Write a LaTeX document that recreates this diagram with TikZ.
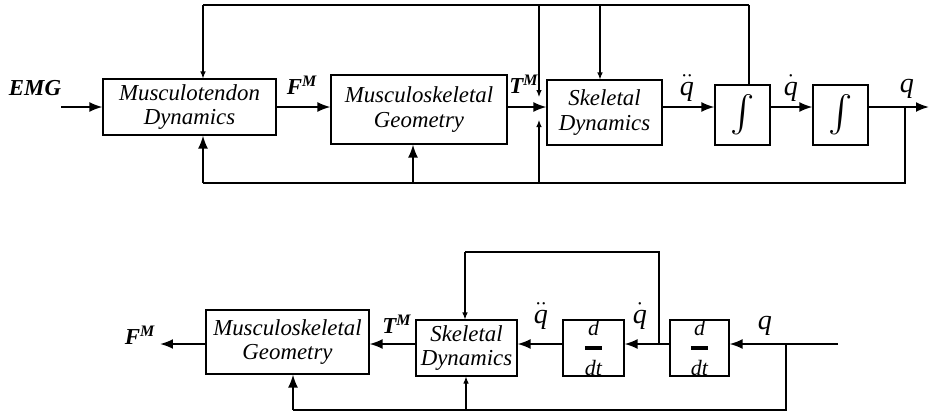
\documentclass[tikz,border=0pt]{standalone}
\usepackage{amsmath}
\usepackage{fontspec}
\setmainfont{Liberation Serif}
\usetikzlibrary{arrows.meta, calc}

\begin{document}
\begin{tikzpicture}[
    x=0.02cm, y=-0.02cm,
    box/.style={rectangle, draw=black, line width=0.6pt, inner sep=0pt, align=center, font=\fontsize{13}{13.7}\selectfont\itshape},
    sig/.style={-{Latex[length=0.26cm, width=0.2cm]}, line width=1.1pt},
    fbline/.style={line width=1.1pt},
    fbthin/.style={line width=0.6pt},
    fbarrow/.style={-{Latex[length=0.14cm, width=0.11cm]}, line width=0.6pt},
    lbl/.style={font=\fontsize{13}{13}\selectfont\bfseries\itshape, inner sep=0pt},
    qlbl/.style={font=\fontsize{16}{16}\selectfont\itshape, inner sep=0pt}
]
    \useasboundingbox (0,0) rectangle (930,414);

    % Symbols
    \def\intsign{{\fontsize{20}{20}\selectfont$\int$}}
    \def\ddtsign{{\fontsize{12.5}{12.5}\selectfont$\genfrac{}{}{2pt}{0}{\textit{d}}{\textit{dt}}$}}

    % Forward dynamics: nodes
    \node[box, minimum width=3.46cm, minimum height=1.12cm] (mtd) at (189.5,107) {Musculotendon\\Dynamics};
    \node[box, minimum width=3.52cm, minimum height=1.38cm] (msg) at (419,109.5) {Musculoskeletal\\Geometry};
    \node[box, minimum width=2.3cm, minimum height=1.3cm] (skd) at (604.5,112.5) {Skeletal\\Dynamics};
    \node[box, minimum width=1.1cm, minimum height=1.2cm] (int1) at (742.5,115) {\intsign};
    \node[box, minimum width=1.1cm, minimum height=1.2cm] (int2) at (840.5,115) {\intsign};

    \coordinate (emg) at (61,107);
    \coordinate (sum) at (539,107);
    \coordinate (qbr) at (905,107);
    \coordinate (qout) at (929,107);

    % Forward path
    \draw[sig] (emg) -- (mtd.west |- emg);
    \draw[sig] (mtd.east |- emg) -- (msg.west |- emg);
    \draw[sig] (msg.east |- emg) -- (skd.west |- emg);
    \draw[sig] (skd.east |- emg) -- (int1.west |- emg);
    \draw[sig] (int1.east |- emg) -- (int2.west |- emg);
    \draw[sig] (int2.east |- emg) -- (qout);

    % Labels
    \node[lbl] (emglbl) at (35,88) {EMG};
    \node[lbl] (fmlbl) at (302,85) {F\textsuperscript{M}};
    \node[lbl] (tmlbl) at (524,84) {T\textsuperscript{M}};
    \node[qlbl] (qddlbl) at (687,88) {$\ddot{\textit{q}}$};
    \node[qlbl] (qdlbl) at (791,88) {$\dot{\textit{q}}$};
    \node[qlbl] (qlbl) at (907,89) {q};

    % Velocity feedback (top)
    \coordinate (topr) at (749,5);
    \coordinate (topl) at (203,5);
    \draw[fbline] ($(int1.north)+(6.5,0)$) -- (topr);
    \draw[fbthin] (topr) -- (topl);
    \draw[fbarrow] (topl) -- (mtd.north -| topl);
    \draw[fbarrow, shorten >=0.2cm] (sum |- topl) -- (sum);
    \draw[fbarrow] (600,5) -- (skd.north -| 600,5);

    % Position feedback (bottom)
    \coordinate (botl) at (203,183);
    \coordinate (botm) at (413,183);
    \draw[fbline] (qbr) -- (qbr |- botl) -- (botl);
    \draw[sig] (botl) -- (mtd.south -| botl);
    \draw[sig] (botm) -- (msg.south -| botm);
    \draw[fbarrow, shorten >=0.26cm] (sum |- botl) -- (sum);

    % Inverse dynamics: nodes
    \node[box, minimum width=3.26cm, minimum height=1.28cm] (msg2) at (287.5,342) {Musculoskeletal\\Geometry};
    \node[box, minimum width=2.02cm, minimum height=1.12cm] (skd2) at (466.5,348) {Skeletal\\Dynamics};
    \node[box, minimum width=1.22cm, minimum height=1.12cm] (dd1) at (593.5,348) {\ddtsign};
    \node[box, minimum width=1.18cm, minimum height=1.12cm] (dd2) at (699.5,348) {\ddtsign};

    \coordinate (qin) at (838,344);
    \coordinate (fmout) at (160,344);
    \coordinate (qbr2) at (786,344);
    \coordinate (qdbr) at (659,344);

    % Backward path
    \draw[sig] (qin) -- (dd2.east |- qin);
    \draw[sig] (dd2.west |- qin) -- (dd1.east |- qin);
    \draw[sig] (dd1.west |- qin) -- (skd2.east |- qin);
    \draw[sig] (skd2.west |- qin) -- (msg2.east |- qin);
    \draw[sig] (msg2.west |- qin) -- (fmout);

    % Labels
    \node[lbl] (fmlbl2) at (140,335) {F\textsuperscript{M}};
    \node[lbl] (tmlbl2) at (397,324) {T\textsuperscript{M}};
    \node[qlbl] (qddlbl2) at (541,316) {$\ddot{\textit{q}}$};
    \node[qlbl] (qdlbl2) at (640,316) {$\dot{\textit{q}}$};
    \node[qlbl] (qlbl2) at (765,326) {q};

    % Velocity loop (top)
    \coordinate (topl2) at (465,252);
    \draw[fbline] (qdbr) -- (qdbr |- topl2) -- (topl2);
    \draw[fbarrow] (topl2) -- (skd2.north -| topl2);

    % Position loop (bottom)
    \coordinate (botl2) at (293,410);
    \coordinate (botm2) at (466,410);
    \draw[fbline] (qbr2) -- (qbr2 |- botl2) -- (botl2);
    \draw[sig] (botl2) -- (msg2.south -| botl2);
    \draw[fbarrow] (botm2) -- (skd2.south -| botm2);

\end{tikzpicture}
\end{document}
